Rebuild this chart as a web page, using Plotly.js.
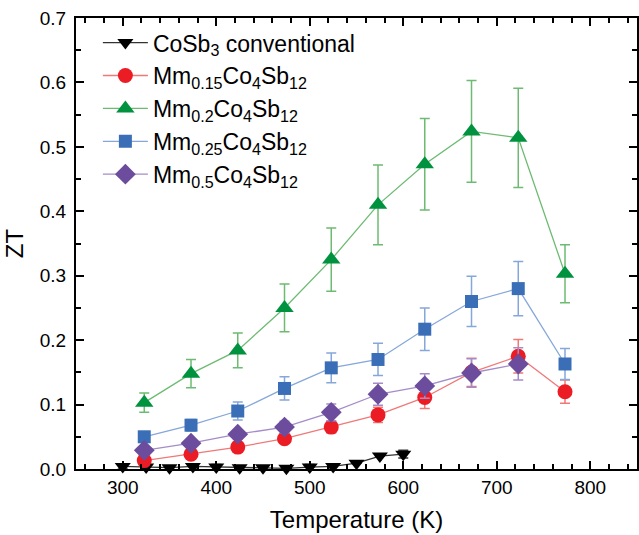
<!DOCTYPE html>
<html>
<head>
<meta charset="utf-8">
<script src="https://cdn.plot.ly/plotly-3.0.1.min.js"></script>
<style>html,body{margin:0;padding:0;background:#fff;}#chart{width:639px;height:535px;}</style>
</head>
<body>
<div id="chart"></div>
<script>
// Temperatures (K)
const tempConv = [300, 325, 350, 375, 400, 425, 450, 475, 500, 525, 550, 575, 600];
const ztConv   = [0.004, 0.003, 0.002, 0.004, 0.003, 0.002, 0.002, 0.001, 0.003, 0.004, 0.009, 0.020, 0.023];
const errConv  = [0.004, 0, 0, 0, 0.004, 0, 0, 0, 0.004, 0, 0, 0, 0.006];

const tempMm = [323, 373, 423, 473, 523, 573, 623, 673, 723, 773];

const zt015  = [0.013, 0.023, 0.034, 0.047, 0.065, 0.084, 0.111, 0.150, 0.175, 0.120];
const err015 = [0.003, 0.004, 0.005, 0.007, 0.009, 0.012, 0.017, 0.022, 0.026, 0.018];

const zt02   = [0.103, 0.148, 0.184, 0.250, 0.325, 0.410, 0.473, 0.524, 0.514, 0.303];
const err02  = [0.015, 0.022, 0.027, 0.037, 0.049, 0.062, 0.071, 0.079, 0.077, 0.045];

const zt025  = [0.050, 0.068, 0.090, 0.125, 0.157, 0.170, 0.217, 0.260, 0.280, 0.163];
const err025 = [0.005, 0.009, 0.014, 0.018, 0.023, 0.025, 0.033, 0.039, 0.042, 0.024];

const tempMm05 = [323, 373, 423, 473, 523, 573, 623, 673, 723];
const zt05   = [0.029, 0.040, 0.054, 0.065, 0.088, 0.116, 0.129, 0.149, 0.163];
const err05  = [0.004, 0.005, 0.007, 0.009, 0.013, 0.017, 0.019, 0.022, 0.025];

const names = ['CoSb<sub>3</sub> conventional', 'Mm<sub>0.15</sub>Co<sub>4</sub>Sb<sub>12</sub>',
  'Mm<sub>0.2</sub>Co<sub>4</sub>Sb<sub>12</sub>', 'Mm<sub>0.25</sub>Co<sub>4</sub>Sb<sub>12</sub>',
  'Mm<sub>0.5</sub>Co<sub>4</sub>Sb<sub>12</sub>'];

function tr(x, y, err, name, mcol, lcol, sym, size) {
  return {
    x: x, y: y, name: name, type: 'scatter', mode: 'lines+markers',
    cliponaxis: false,
    line: {color: lcol, width: 1.3},
    marker: {color: mcol, symbol: sym, size: size},
    error_y: {type: 'data', array: err, visible: true, color: lcol, thickness: 1.5, width: 5}
  };
}

const data = [
  tr(tempConv, ztConv, errConv, names[0], '#000000', '#333333', 'triangle-down', 14),
  tr(tempMm, zt015, err015, names[1], '#ec1c24', '#f07878', 'circle', 15),
  tr(tempMm, zt02, err02, names[2], '#00923f', '#6dbb72', 'triangle-up', 16),
  tr(tempMm, zt025, err025, names[3], '#3a6fb7', '#86a7da', 'square', 13),
  tr(tempMm05, zt05, err05, names[4], '#6c4c9c', '#a48cc9', 'diamond', 16)
];

const FONT = 'Liberation Sans, Arial, sans-serif';

const axisCommon = {
  showline: true, linecolor: '#000', linewidth: 2, mirror: 'ticks',
  ticks: 'inside', ticklen: 8, tickwidth: 2, tickcolor: '#000',
  showgrid: false, zeroline: false,
  tickfont: {family: FONT, size: 19, color: '#000'}
};

const layout = {
  width: 639, height: 535,
  margin: {l: 76, r: 2, t: 18, b: 66},
  paper_bgcolor: '#fff', plot_bgcolor: '#fff',
  showlegend: true,
  legend: {
    x: 0.039, y: 0.993, xanchor: 'left', yanchor: 'top',
    bgcolor: 'rgba(0,0,0,0)', borderwidth: 0,
    font: {family: FONT, size: 23, color: '#000'},
    tracegroupgap: 0, itemwidth: 45
  },
  xaxis: Object.assign({}, axisCommon, {
    range: [250, 850], tickvals: [300, 400, 500, 600, 700, 800],
    minor: {dtick: 20, ticks: 'inside', ticklen: 5, tickwidth: 2, tickcolor: '#000'},
    title: {text: 'Temperature (K)', standoff: 14, font: {family: FONT, size: 24, color: '#000'}}
  }),
  yaxis: Object.assign({}, axisCommon, {
    range: [0, 0.7], dtick: 0.1, tickformat: '.1f', ticklabelstandoff: 4,
    minor: {dtick: 0.05, ticks: 'inside', ticklen: 5, tickwidth: 2, tickcolor: '#000'},
    title: {text: 'ZT', standoff: 9, font: {family: FONT, size: 24, color: '#000'}}
  })
};

Plotly.newPlot('chart', data, layout, {displayModeBar: false, staticPlot: true});
</script>
</body>
</html>
